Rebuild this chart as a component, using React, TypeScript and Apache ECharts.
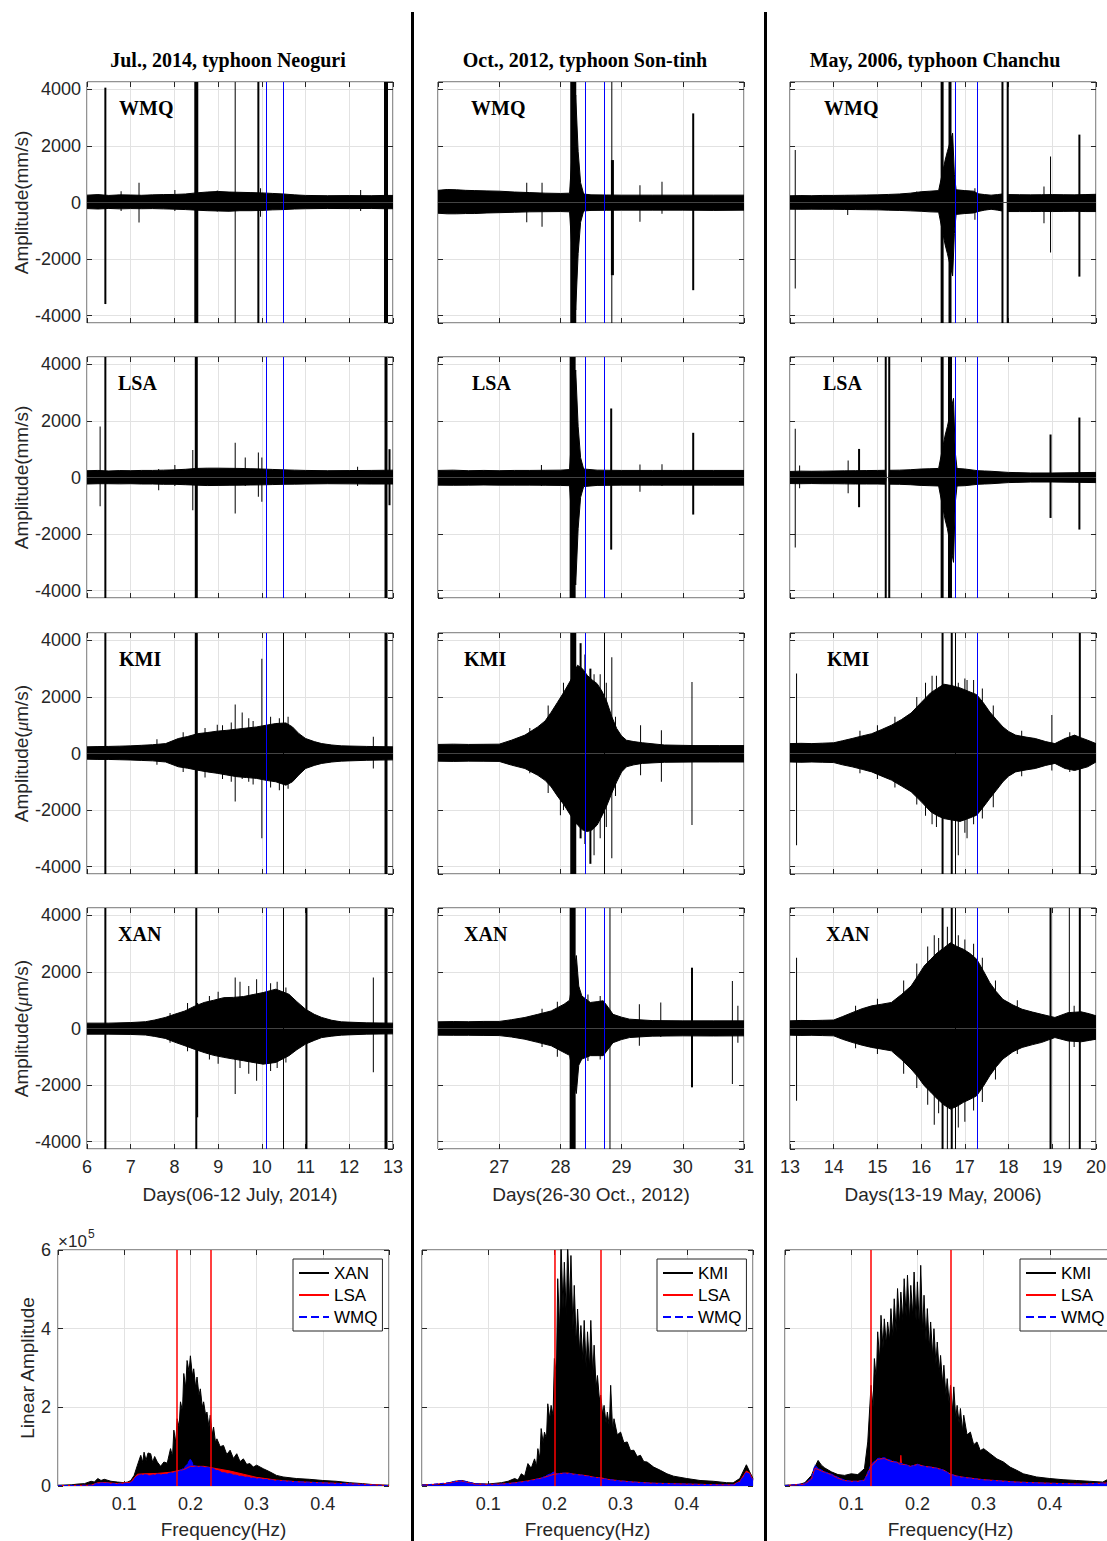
import React, { useEffect, useRef } from "react";
import * as echarts from "echarts";

// ================= DATA =================
const FULL = 99999; // marks a trace that runs off the whole panel

// Seismogram envelopes: [day, upper amplitude, lower amplitude]
const ENV_WMQ_2014 = [
  [6.0, 260, -215], [6.25, 280, -230], [6.5, 250, -210], [6.75, 270, -225], [7.0, 265, -215], [7.25, 255, -220],
  [7.5, 270, -215], [7.75, 280, -225], [8.0, 285, -235], [8.25, 300, -250], [8.5, 340, -270], [8.75, 370, -290],
  [9.0, 390, -300], [9.25, 370, -310], [9.5, 360, -290], [9.75, 350, -290], [10.0, 340, -280], [10.25, 320, -260],
  [10.5, 300, -250], [10.75, 270, -230], [11.0, 250, -220], [11.5, 240, -210], [12.0, 245, -215], [12.5, 240, -210],
  [12.8, 250, -220], [13.0, 250, -220],
];
const ENV_LSA_2014 = [
  [6.0, 240, -230], [6.25, 250, -220], [6.5, 230, -220], [6.75, 245, -225], [7.0, 240, -220], [7.25, 250, -230],
  [7.5, 250, -230], [7.75, 260, -240], [8.0, 270, -240], [8.25, 290, -255], [8.5, 320, -270], [8.75, 330, -285],
  [9.0, 330, -280], [9.25, 325, -275], [9.5, 320, -270], [9.75, 310, -265], [10.0, 300, -260], [10.25, 285, -250],
  [10.5, 270, -240], [10.75, 260, -235], [11.0, 250, -230], [11.5, 240, -220], [12.0, 245, -225], [12.5, 250, -230],
  [12.8, 255, -230], [13.0, 260, -230],
];
const ENV_KMI_2014 = [
  [6.0, 235, -200], [6.25, 245, -210], [6.5, 250, -210], [6.75, 260, -220], [7.0, 270, -230], [7.25, 290, -245],
  [7.5, 310, -260], [7.8, 350, -300], [8.09, 530, -470], [8.3, 600, -520], [8.53, 700, -590], [8.75, 740, -650],
  [8.98, 790, -700], [9.2, 820, -760], [9.43, 860, -820], [9.65, 900, -850], [9.88, 940, -880], [10.1, 1000, -950],
  [10.32, 1060, -1000], [10.55, 1080, -1120], [10.7, 940, -1000], [10.85, 700, -750], [11.0, 530, -530],
  [11.2, 420, -420], [11.37, 350, -350], [11.6, 300, -300], [11.82, 270, -270], [12.4, 250, -240], [13.0, 235, -225],
];
const ENV_XAN_2014 = [
  [6.0, 190, -200], [6.5, 190, -200], [7.0, 210, -210], [7.34, 240, -230], [7.55, 300, -280], [7.79, 390, -350],
  [8.0, 500, -480], [8.24, 620, -610], [8.45, 780, -730], [8.68, 920, -850], [8.9, 1000, -950], [9.13, 1090, -1020],
  [9.35, 1100, -1080], [9.58, 1130, -1140], [9.8, 1200, -1200], [10.03, 1270, -1260], [10.32, 1390, -1200],
  [10.62, 1210, -960], [10.8, 950, -750], [11.0, 680, -550], [11.2, 500, -420], [11.37, 390, -320],
  [11.6, 290, -270], [11.82, 235, -235], [12.4, 200, -200], [13.0, 190, -190],
];
const ENV_WMQ_2012 = [
  [26.0, 430, -380], [26.15, 460, -400], [26.3, 450, -400], [26.45, 430, -390], [26.6, 420, -390], [26.8, 410, -370],
  [27.0, 400, -360], [27.25, 370, -345], [27.5, 350, -330], [27.75, 330, -325], [28.0, 320, -320], [28.15, 330, -330],
  [28.25, 3800, -3800], [28.29, 1800, -1800], [28.33, 700, -700], [28.38, 300, -300], [28.5, 270, -280],
  [28.75, 265, -275], [29.0, 260, -270], [29.5, 260, -270], [30.0, 260, -270], [30.5, 260, -280], [31.0, 260, -270],
];
const ENV_LSA_2012 = [
  [26.0, 250, -270], [26.25, 260, -275], [26.5, 240, -270], [26.75, 250, -265], [27.0, 240, -270], [27.25, 250, -270],
  [27.5, 250, -270], [27.75, 255, -275], [28.0, 260, -280], [28.15, 280, -290], [28.25, 3800, -3800],
  [28.29, 1800, -1800], [28.33, 700, -700], [28.38, 300, -320], [28.6, 260, -280], [29.0, 250, -270],
  [29.5, 250, -270], [30.0, 250, -270], [30.5, 250, -270], [31.0, 250, -270],
];
const ENV_KMI_2012 = [
  [26.0, 320, -270], [26.25, 330, -280], [26.5, 320, -270], [26.75, 325, -275], [27.0, 330, -280], [27.2, 470, -410],
  [27.42, 650, -530], [27.63, 940, -770], [27.75, 1150, -950], [27.85, 1460, -1180], [27.95, 1800, -1500],
  [28.06, 2180, -1820], [28.17, 2600, -2200], [28.28, 3120, -2530], [28.36, 3000, -2700], [28.44, 2760, -2760],
  [28.52, 2600, -2700], [28.6, 2470, -2530], [28.68, 2200, -2200], [28.76, 1820, -1830], [28.84, 1300, -1400],
  [28.92, 880, -1000], [29.0, 620, -650], [29.08, 470, -470], [29.2, 420, -400], [29.34, 380, -350],
  [29.7, 300, -310], [30.2, 280, -300], [30.6, 280, -300], [31.0, 280, -300],
];
const ENV_XAN_2012 = [
  [26.0, 235, -235], [26.25, 245, -240], [26.5, 240, -240], [26.75, 250, -245], [27.0, 250, -250], [27.2, 310, -300],
  [27.42, 390, -380], [27.63, 500, -490], [27.85, 620, -610], [28.06, 860, -850], [28.15, 1000, -950],
  [28.26, 2580, -2300], [28.3, 1500, -1300], [28.35, 1150, -1080], [28.49, 920, -960], [28.6, 950, -960],
  [28.7, 980, -960], [28.78, 750, -730], [28.86, 500, -500], [29.0, 400, -390], [29.13, 330, -320],
  [29.5, 280, -270], [30.0, 270, -260], [30.5, 270, -265], [31.0, 270, -260],
];
const ENV_WMQ_2006 = [
  [13.0, 236, -236], [13.25, 245, -240], [13.5, 240, -236], [13.75, 250, -240], [14.0, 250, -240], [14.25, 255, -245],
  [14.5, 260, -250], [14.75, 265, -255], [15.0, 270, -260], [15.25, 285, -270], [15.5, 300, -280], [15.75, 330, -295],
  [16.0, 380, -310], [16.2, 400, -330], [16.4, 420, -340], [16.55, 1500, -1500], [16.6, 1800, -1800],
  [16.72, 2450, -2600], [16.76, 1000, -1100], [16.8, 450, -420], [17.0, 420, -390], [17.2, 400, -370],
  [17.3, 310, -320], [17.45, 280, -270], [17.6, 260, -240], [17.75, 280, -270], [17.85, 300, -300], [17.86, 0, 0],
  [17.98, 0, 0], [17.99, 280, -320], [18.25, 275, -320], [18.5, 270, -320], [18.75, 275, -315], [19.0, 280, -320],
  [19.25, 275, -315], [19.5, 270, -310], [19.75, 280, -320], [20.0, 290, -320],
];
const ENV_LSA_2006 = [
  [13.0, 214, -214], [13.25, 225, -220], [13.5, 220, -214], [13.75, 225, -220], [14.0, 230, -220], [14.25, 235, -225],
  [14.5, 240, -230], [14.75, 245, -230], [15.0, 250, -230], [15.18, 255, -235], [15.2, 0, 0], [15.26, 0, 0],
  [15.28, 255, -235], [15.5, 260, -240], [15.75, 275, -255], [16.0, 300, -280], [16.2, 310, -290], [16.4, 320, -300],
  [16.55, 1500, -1500], [16.6, 1800, -1800], [16.74, 2800, -3000], [16.78, 900, -900], [16.82, 320, -300],
  [17.0, 300, -290], [17.3, 240, -240], [17.45, 230, -230], [17.6, 220, -220], [18.0, 180, -180], [18.5, 160, -160],
  [19.0, 160, -160], [19.5, 170, -170], [20.0, 180, -180],
];
const ENV_KMI_2006 = [
  [13.0, 350, -300], [13.25, 360, -310], [13.5, 350, -300], [13.75, 365, -310], [14.0, 380, -320], [14.2, 450, -400],
  [14.42, 530, -470], [14.65, 620, -560], [14.87, 700, -650], [15.1, 850, -800], [15.32, 1000, -940],
  [15.55, 1200, -1150], [15.77, 1430, -1350], [16.0, 1800, -1700], [16.22, 2150, -2060], [16.37, 2300, -2200],
  [16.52, 2450, -2300], [16.7, 2400, -2350], [16.89, 2320, -2400], [17.08, 2200, -2300], [17.27, 2080, -2180],
  [17.42, 1800, -1900], [17.57, 1470, -1590], [17.72, 1200, -1300], [17.87, 940, -1000], [18.0, 780, -800],
  [18.16, 650, -650], [18.4, 580, -580], [18.61, 530, -530], [18.85, 420, -420], [19.06, 350, -350],
  [19.29, 530, -530], [19.51, 650, -600], [19.65, 560, -540], [19.81, 470, -470], [20.0, 350, -300],
];
const ENV_XAN_2006 = [
  [13.0, 270, -235], [13.25, 285, -245], [13.5, 280, -240], [13.75, 290, -250], [14.0, 300, -260], [14.2, 420, -380],
  [14.42, 560, -490], [14.65, 700, -590], [14.87, 800, -670], [15.1, 860, -730], [15.32, 920, -790],
  [15.55, 1200, -1100], [15.77, 1500, -1430], [15.92, 1850, -1700], [16.07, 2210, -2020], [16.22, 2450, -2250],
  [16.37, 2680, -2490], [16.52, 2850, -2700], [16.67, 3030, -2850], [16.82, 2900, -2750], [16.97, 2800, -2610],
  [17.12, 2650, -2500], [17.27, 2450, -2380], [17.42, 2050, -2050], [17.57, 1620, -1670], [17.72, 1300, -1350],
  [17.87, 1030, -1080], [18.1, 830, -820], [18.31, 680, -670], [18.55, 580, -570], [18.76, 500, -490],
  [19.06, 390, -320], [19.36, 560, -440], [19.66, 590, -470], [19.85, 520, -420], [20.0, 450, -380],
];

// Isolated spikes and traces: [day, top, bottom, stroke width in px]
const SPK_WMQ_2014 = [
  [6.42, 4060, -3590, 2], [6.78, 400, -300, 1], [7.19, 700, -710, 1], [8.01, 440, -300, 1], [8.5, FULL, -FULL, 4],
  [8.98, 420, -320, 1], [9.39, FULL, -FULL, 1], [9.92, FULL, -FULL, 2], [9.97, 500, -500, 1], [12.26, 440, -300, 1],
  [12.84, FULL, -FULL, 4],
];
const SPK_LSA_2014 = [
  [6.3, 1800, -1015, 1], [6.42, FULL, -FULL, 2], [7.64, 300, -450, 1], [8.01, 440, -300, 1], [8.42, 970, -1160, 1],
  [8.5, FULL, -FULL, 3], [9.39, 1230, -1270, 1], [9.62, 710, -300, 1], [9.92, 885, -680, 1], [10.0, 710, -860, 1],
  [12.19, 380, -300, 1], [12.84, FULL, -FULL, 3], [12.92, 1000, -980, 2],
];
const SPK_KMI_2014 = [
  [6.42, FULL, -FULL, 2], [7.6, 500, -400, 1], [8.2, 750, -650, 1], [8.5, FULL, -FULL, 3], [8.7, 900, -850, 1],
  [8.98, 1020, -700, 1], [9.1, 1000, -900, 1], [9.3, 1100, -1000, 1], [9.39, 1730, -1700, 1], [9.55, 1450, -900, 1],
  [9.7, 1250, -1000, 1], [9.8, 1150, -1100, 1], [10.0, 3350, -3000, 1], [10.2, 1300, -1200, 1],
  [10.4, 1250, -1300, 1], [10.6, 1300, -1250, 1], [12.55, 590, -530, 1], [12.84, FULL, -FULL, 3],
];
const SPK_XAN_2014 = [
  [6.42, FULL, -FULL, 2], [7.9, 550, -500, 1], [8.3, 900, -800, 1], [8.5, FULL, -FULL, 2], [8.52, 900, -3140, 2],
  [8.8, 1150, -1100, 1], [9.0, 1300, -1250, 1], [9.39, 1800, -2320, 1], [9.5, 1650, -1400, 1], [9.7, 1500, -1600, 1],
  [9.88, 1740, -1850, 1], [10.2, 1600, -1500, 1], [10.35, 1650, -1400, 1], [10.55, 1450, -1200, 1],
  [11.02, FULL, -FULL, 2], [12.55, 1800, -1550, 1], [12.84, FULL, -FULL, 3],
];
const SPK_WMQ_2012 = [
  [27.45, 700, -700, 1], [27.7, 700, -860, 1], [28.21, FULL, -FULL, 6], [28.84, FULL, -FULL, 1],
  [28.85, 1500, -2570, 3], [29.3, 610, -680, 1], [29.66, 730, -400, 1], [30.17, 3150, -3100, 2],
];
const SPK_LSA_2012 = [
  [27.69, 440, -300, 1], [28.2, FULL, -FULL, 6], [28.83, 2440, -2550, 2], [29.3, 460, -500, 1], [29.66, 470, -300, 1],
  [30.17, 1580, -1310, 2],
];
const SPK_KMI_2012 = [
  [27.5, 900, -700, 1], [27.8, 1700, -1400, 1], [28.0, 1800, -2180, 1], [28.05, 2500, -2000, 1],
  [28.21, FULL, -FULL, 6], [28.33, 3900, -3000, 2], [28.4, 3500, -3200, 1], [28.49, 3000, -3900, 2],
  [28.55, 2800, -3600, 1], [28.65, 2800, -3000, 1], [28.75, 2500, -2600, 1], [28.84, 3400, -3700, 1],
  [28.9, 1300, -1500, 1], [29.31, 1000, -770, 1], [29.65, 820, -1000, 1], [30.15, 2530, -2530, 1],
];
const SPK_XAN_2012 = [
  [27.7, 700, -650, 1], [27.95, 950, -1000, 1], [28.2, FULL, -FULL, 6], [28.45, 1200, -1150, 1],
  [28.65, 1150, -1100, 1], [28.81, FULL, -FULL, 1], [29.29, 860, -610, 1], [29.64, 920, -300, 1],
  [30.15, 2150, -2080, 2], [30.81, 1680, -1960, 1], [30.9, 800, -500, 1],
];
const SPK_WMQ_2006 = [
  [13.12, 1860, -3040, 1], [14.32, 250, -440, 1], [15.9, 390, -250, 1], [16.48, FULL, -FULL, 3],
  [16.66, FULL, -FULL, 3], [17.23, 500, -610, 1], [17.86, FULL, -FULL, 2], [17.98, FULL, -FULL, 2],
  [18.81, 570, -730, 1], [18.96, 1630, -1770, 1], [19.62, 2400, -2620, 2],
];
const SPK_LSA_2006 = [
  [13.12, 1725, -2475, 1], [13.22, 420, -380, 1], [14.33, 600, -560, 1], [14.58, 1010, -1050, 2],
  [15.19, FULL, -FULL, 2], [15.27, FULL, -FULL, 2], [16.48, FULL, -FULL, 3], [16.66, FULL, -FULL, 4],
  [18.96, 1520, -1430, 2], [19.62, 2120, -1840, 2],
];
const SPK_KMI_2006 = [
  [13.15, 2830, -3240, 1], [14.6, 800, -700, 1], [15.0, 1000, -900, 1], [15.4, 1300, -1200, 1],
  [15.9, 2000, -1800, 1], [16.1, 2500, -2200, 1], [16.25, 2750, -2500, 1], [16.35, 2750, -2600, 1],
  [16.49, FULL, -FULL, 2], [16.7, FULL, -FULL, 2], [16.85, 2500, -3600, 1], [17.0, 2650, -2800, 1],
  [17.05, 2600, -3000, 1], [17.2, 2600, -2500, 1], [17.4, 2300, -2300, 1], [17.65, 1700, -1900, 1],
  [18.3, 800, -800, 1], [18.99, 1360, -600, 1], [19.4, 750, -650, 1], [19.63, FULL, -FULL, 2],
];
const SPK_XAN_2006 = [
  [13.15, 2500, -2550, 1], [14.5, 800, -700, 1], [15.0, 1050, -900, 1], [15.6, 1700, -1600, 1],
  [15.9, 2300, -2100, 1], [16.15, 2900, -2700, 1], [16.3, 3300, -3400, 1], [16.4, 3200, -3000, 1],
  [16.49, FULL, -FULL, 2], [16.6, 3600, -FULL, 1], [16.7, FULL, -FULL, 2], [16.85, 3300, -3500, 1],
  [17.0, 3150, -3300, 1], [17.2, 3000, -2900, 1], [17.4, 2500, -2600, 1], [17.7, 1700, -1800, 1],
  [18.2, 1000, -900, 1], [18.96, FULL, -FULL, 2], [19.39, FULL, -FULL, 1], [19.5, 800, -650, 1],
  [19.63, FULL, -FULL, 2],
];

// Analysis windows (vertical lines) per event, and their colours per row
const WINDOWS = [[10.1, 10.5], [28.41, 28.71], [16.78, 17.29]];
const WINDOW_COLORS = [
  [["b", "b"], ["b", "b"], ["b", "b"]],
  [["b", "b"], ["b", "b"], ["b", "b"]],
  [["b", "k"], ["b", "k"], ["k", "b"]],
  [["b", "k"], ["b", "b"], ["k", "b"]],
];

// Spectra: [frequency Hz, amplitude x 1e5]
const SPEC_XAN_2014 = [
  [0.0, 0.02], [0.02, 0.03], [0.03, 0.05], [0.04, 0.06], [0.05, 0.12], [0.055, 0.1], [0.06, 0.19], [0.065, 0.14],
  [0.07, 0.17], [0.08, 0.12], [0.09, 0.1], [0.1, 0.085], [0.105, 0.1], [0.11, 0.14], [0.115, 0.27], [0.12, 0.53],
  [0.125, 0.78], [0.128, 0.6], [0.13, 0.86], [0.133, 0.65], [0.136, 0.84], [0.14, 0.82], [0.143, 0.6],
  [0.146, 0.75], [0.15, 0.61], [0.155, 0.5], [0.16, 0.61], [0.165, 0.58], [0.17, 0.95], [0.173, 0.75],
  [0.175, 1.42], [0.178, 1.1], [0.18, 1.71], [0.183, 1.5], [0.185, 2.14], [0.188, 1.9], [0.19, 2.86],
  [0.193, 2.5], [0.195, 3.19], [0.198, 2.9], [0.2, 3.31], [0.203, 2.8], [0.205, 2.98], [0.208, 2.5], [0.21, 2.77],
  [0.213, 2.3], [0.215, 2.47], [0.218, 2.0], [0.22, 2.14], [0.223, 1.8], [0.225, 1.88], [0.228, 1.5], [0.23, 1.8],
  [0.233, 1.3], [0.235, 1.5], [0.238, 1.1], [0.24, 1.2], [0.245, 1.0], [0.25, 1.03], [0.255, 0.8], [0.26, 0.91],
  [0.265, 0.7], [0.27, 0.82], [0.275, 0.62], [0.28, 0.69], [0.285, 0.55], [0.29, 0.57], [0.295, 0.48],
  [0.3, 0.53], [0.31, 0.44], [0.32, 0.36], [0.33, 0.27], [0.34, 0.23], [0.36, 0.19], [0.38, 0.17], [0.4, 0.14],
  [0.42, 0.12], [0.44, 0.085], [0.46, 0.06], [0.48, 0.03], [0.5, 0.02],
];
const SPEC_LSA_2014 = [
  [0.0, 0.01], [0.05, 0.02], [0.06, 0.08], [0.07, 0.09], [0.09, 0.06], [0.11, 0.1], [0.12, 0.3], [0.13, 0.31],
  [0.15, 0.32], [0.17, 0.35], [0.19, 0.42], [0.2, 0.5], [0.22, 0.5], [0.24, 0.44], [0.26, 0.38], [0.28, 0.3],
  [0.3, 0.22], [0.33, 0.15], [0.36, 0.11], [0.4, 0.08], [0.45, 0.05], [0.48, 0.03], [0.5, 0.01],
];
const SPEC_WMQ_2014 = [
  [0.0, 0.01], [0.05, 0.02], [0.06, 0.07], [0.07, 0.08], [0.09, 0.05], [0.11, 0.08], [0.12, 0.27], [0.13, 0.29],
  [0.14, 0.27], [0.15, 0.3], [0.16, 0.29], [0.17, 0.33], [0.18, 0.36], [0.19, 0.45], [0.195, 0.55], [0.2, 0.69],
  [0.205, 0.52], [0.21, 0.5], [0.22, 0.48], [0.23, 0.47], [0.24, 0.4], [0.25, 0.34], [0.26, 0.31], [0.27, 0.27],
  [0.28, 0.24], [0.3, 0.19], [0.33, 0.14], [0.35, 0.12], [0.4, 0.08], [0.45, 0.05], [0.48, 0.02], [0.5, 0.01],
];
const SPEC_KMI_2012 = [
  [0.0, 0.03], [0.03, 0.04], [0.05, 0.12], [0.06, 0.14], [0.07, 0.1], [0.08, 0.06], [0.1, 0.05], [0.12, 0.085],
  [0.13, 0.12], [0.14, 0.19], [0.145, 0.15], [0.15, 0.31], [0.155, 0.25], [0.16, 0.57], [0.165, 0.45],
  [0.17, 0.69], [0.173, 0.5], [0.175, 0.95], [0.178, 0.7], [0.18, 1.46], [0.183, 1.1], [0.185, 1.37],
  [0.188, 1.2], [0.19, 2.09], [0.193, 1.7], [0.195, 2.05], [0.198, 1.8], [0.2, 3.24], [0.203, 2.8], [0.205, 5.27],
  [0.208, 3.9], [0.21, 6.2], [0.213, 4.5], [0.215, 5.69], [0.218, 4.3], [0.22, 6.2], [0.223, 4.6], [0.225, 5.86],
  [0.228, 4.0], [0.23, 5.1], [0.233, 3.6], [0.235, 4.5], [0.238, 3.4], [0.24, 4.08], [0.243, 3.2], [0.245, 4.21],
  [0.248, 3.0], [0.25, 3.92], [0.253, 3.0], [0.255, 4.21], [0.258, 2.8], [0.26, 3.58], [0.263, 2.5],
  [0.265, 2.81], [0.268, 2.2], [0.27, 2.31], [0.273, 1.8], [0.275, 2.05], [0.278, 1.6], [0.28, 1.88],
  [0.283, 1.5], [0.285, 2.56], [0.288, 1.4], [0.29, 1.71], [0.295, 1.3], [0.3, 1.37], [0.305, 1.1], [0.31, 1.12],
  [0.315, 0.9], [0.32, 0.91], [0.325, 0.75], [0.33, 0.78], [0.335, 0.62], [0.34, 0.61], [0.35, 0.48],
  [0.36, 0.4], [0.37, 0.31], [0.38, 0.25], [0.4, 0.19], [0.42, 0.14], [0.44, 0.12], [0.46, 0.085], [0.47, 0.08],
  [0.48, 0.19], [0.49, 0.54], [0.495, 0.36], [0.5, 0.19],
];
const SPEC_LSA_2012 = [
  [0.0, 0.02], [0.04, 0.07], [0.05, 0.11], [0.06, 0.13], [0.07, 0.09], [0.08, 0.05], [0.1, 0.04], [0.12, 0.05],
  [0.14, 0.08], [0.16, 0.13], [0.18, 0.2], [0.2, 0.3], [0.21, 0.32], [0.22, 0.33], [0.23, 0.3], [0.24, 0.28],
  [0.25, 0.26], [0.26, 0.22], [0.27, 0.21], [0.28, 0.17], [0.3, 0.13], [0.32, 0.1], [0.35, 0.07], [0.4, 0.05],
  [0.45, 0.03], [0.47, 0.03], [0.48, 0.12], [0.49, 0.38], [0.495, 0.33], [0.5, 0.15],
];
const SPEC_WMQ_2012 = [
  [0.0, 0.02], [0.04, 0.08], [0.05, 0.12], [0.06, 0.14], [0.07, 0.1], [0.08, 0.06], [0.1, 0.04], [0.12, 0.05],
  [0.14, 0.08], [0.16, 0.12], [0.18, 0.2], [0.2, 0.36], [0.205, 0.3], [0.21, 0.33], [0.22, 0.32], [0.23, 0.3],
  [0.24, 0.28], [0.25, 0.25], [0.26, 0.22], [0.27, 0.2], [0.28, 0.17], [0.3, 0.13], [0.32, 0.1], [0.35, 0.07],
  [0.4, 0.05], [0.45, 0.03], [0.47, 0.03], [0.48, 0.1], [0.49, 0.35], [0.495, 0.3], [0.5, 0.15],
];
const SPEC_KMI_2006 = [
  [0.0, 0.02], [0.02, 0.03], [0.03, 0.085], [0.04, 0.27], [0.045, 0.48], [0.05, 0.65], [0.055, 0.53], [0.06, 0.46],
  [0.07, 0.36], [0.08, 0.29], [0.09, 0.27], [0.1, 0.31], [0.11, 0.29], [0.12, 0.44], [0.125, 1.12], [0.13, 2.56],
  [0.133, 2.0], [0.135, 3.24], [0.138, 2.7], [0.14, 3.92], [0.143, 3.2], [0.145, 4.34], [0.148, 3.5],
  [0.15, 4.25], [0.153, 3.6], [0.155, 4.17], [0.158, 3.7], [0.16, 4.51], [0.163, 3.8], [0.165, 4.76],
  [0.168, 3.9], [0.17, 5.02], [0.173, 4.1], [0.175, 4.93], [0.178, 4.2], [0.18, 5.27], [0.183, 4.3],
  [0.185, 5.36], [0.188, 4.2], [0.19, 5.1], [0.193, 4.3], [0.195, 5.44], [0.198, 4.2], [0.2, 5.19], [0.203, 4.0],
  [0.205, 5.61], [0.208, 3.9], [0.21, 4.85], [0.213, 3.7], [0.215, 4.51], [0.218, 3.5], [0.22, 4.17],
  [0.223, 3.3], [0.225, 4.0], [0.228, 3.1], [0.23, 3.66], [0.233, 2.9], [0.235, 3.32], [0.238, 2.6], [0.24, 3.07],
  [0.243, 2.3], [0.245, 2.73], [0.248, 2.1], [0.25, 2.56], [0.253, 1.9], [0.255, 2.52], [0.258, 1.7], [0.26, 2.05],
  [0.263, 1.6], [0.265, 1.97], [0.268, 1.4], [0.27, 1.8], [0.275, 1.3], [0.28, 1.37], [0.285, 1.05], [0.29, 1.12],
  [0.295, 0.9], [0.3, 0.95], [0.31, 0.82], [0.32, 0.69], [0.33, 0.61], [0.34, 0.48], [0.35, 0.4], [0.36, 0.31],
  [0.38, 0.23], [0.4, 0.19], [0.42, 0.16], [0.44, 0.14], [0.46, 0.12], [0.48, 0.1], [0.49, 0.19], [0.5, 0.31],
];
const SPEC_LSA_2006 = [
  [0.0, 0.01], [0.03, 0.05], [0.04, 0.18], [0.045, 0.45], [0.05, 0.42], [0.06, 0.35], [0.07, 0.29], [0.08, 0.2],
  [0.09, 0.14], [0.1, 0.12], [0.11, 0.12], [0.12, 0.15], [0.13, 0.5], [0.14, 0.68], [0.15, 0.7], [0.16, 0.63],
  [0.17, 0.6], [0.174, 0.55], [0.175, 0.78], [0.176, 0.55], [0.18, 0.55], [0.19, 0.5], [0.2, 0.55], [0.21, 0.5],
  [0.22, 0.48], [0.23, 0.45], [0.24, 0.4], [0.25, 0.3], [0.26, 0.25], [0.27, 0.22], [0.3, 0.16], [0.35, 0.1],
  [0.4, 0.07], [0.45, 0.05], [0.49, 0.08], [0.5, 0.25],
];
const SPEC_WMQ_2006 = [
  [0.0, 0.01], [0.03, 0.06], [0.04, 0.2], [0.045, 0.53], [0.05, 0.45], [0.06, 0.36], [0.07, 0.3], [0.08, 0.22],
  [0.09, 0.15], [0.1, 0.12], [0.11, 0.12], [0.12, 0.15], [0.13, 0.55], [0.14, 0.7], [0.15, 0.72], [0.16, 0.65],
  [0.17, 0.6], [0.18, 0.55], [0.19, 0.5], [0.2, 0.55], [0.21, 0.5], [0.22, 0.48], [0.23, 0.45], [0.24, 0.4],
  [0.25, 0.3], [0.26, 0.25], [0.27, 0.22], [0.3, 0.16], [0.35, 0.1], [0.4, 0.07], [0.45, 0.05], [0.49, 0.08],
  [0.5, 0.25],
];
const SPEC_BANDS = [[0.18, 0.23], [0.2, 0.27], [0.13, 0.25]];

// Labels
const STATIONS = ["WMQ", "LSA", "KMI", "XAN"];
const COL_TITLES = ["Jul., 2014, typhoon Neoguri", "Oct., 2012, typhoon Son-tinh", "May, 2006, typhoon Chanchu"];
const DAY_RANGES = [[6, 13], [26, 31], [13, 20]];
const DAY_NAMES = ["Days(06-12 July, 2014)", "Days(26-30 Oct., 2012)", "Days(13-19 May, 2006)"];
const Y_NAMES = ["Amplitude(mm/s)", "Amplitude(mm/s)", "Amplitude({mu|μ}m/s)", "Amplitude({mu|μ}m/s)"];
const SPEC_MAIN_NAMES = ["XAN", "KMI", "KMI"];

const ENVELOPES = [
  [ENV_WMQ_2014, ENV_WMQ_2012, ENV_WMQ_2006],
  [ENV_LSA_2014, ENV_LSA_2012, ENV_LSA_2006],
  [ENV_KMI_2014, ENV_KMI_2012, ENV_KMI_2006],
  [ENV_XAN_2014, ENV_XAN_2012, ENV_XAN_2006],
];
const SPIKES = [
  [SPK_WMQ_2014, SPK_WMQ_2012, SPK_WMQ_2006],
  [SPK_LSA_2014, SPK_LSA_2012, SPK_LSA_2006],
  [SPK_KMI_2014, SPK_KMI_2012, SPK_KMI_2006],
  [SPK_XAN_2014, SPK_XAN_2012, SPK_XAN_2006],
];
const SPECTRA = [
  [SPEC_XAN_2014, SPEC_LSA_2014, SPEC_WMQ_2014],
  [SPEC_KMI_2012, SPEC_LSA_2012, SPEC_WMQ_2012],
  [SPEC_KMI_2006, SPEC_LSA_2006, SPEC_WMQ_2006],
];

// ================= LAYOUT =================
const COL_LEFT = [87, 438, 790];
const ROW_TOP = [82, 357, 633, 908];
const PANEL_W = 306;
const PANEL_H = 241;
const Y_LIM = 4260;
const SPEC_LEFT = [58, 422, 785];
const SPEC_TOP = 1250;
const SPEC_W = 331;
const SPEC_H = 236;
const TITLE_X = [228, 585, 935];
const STATION_LEFT = [
  [119, 471, 824],
  [118, 472, 823],
  [119, 464, 827],
  [118, 464, 826],
];
const LEGEND_LEFT = [293, 657, 1020];

const FONT = '"Liberation Sans", Arial, Helvetica, sans-serif';
const SERIF = '"Liberation Serif", "Times New Roman", serif';
const AXIS_C = "#262626";
const GRID_C = "#e2e2e2";

function buildOption() {
  const grid: any[] = [];
  const xAxis: any[] = [];
  const yAxis: any[] = [];
  const mirrorX: any[] = [];
  const mirrorY: any[] = [];
  const series: any[] = [];
  const graphic: any[] = [];

  const tick = { show: true, inside: true, length: 5, lineStyle: { color: AXIS_C, width: 1 } };
  const split = { show: true, lineStyle: { color: GRID_C, width: 1 } };
  const plain = (v: number) => String(v);
  const mirror = (base: any, position: string) => ({
    ...base, position, name: "", axisLabel: { show: false }, splitLine: { show: false },
    axisLine: { show: false, onZero: false }, axisTick: tick,
  });

  const renderSpike = (params: any, api: any) => {
    const x = api.value(0);
    const up = Math.min(api.value(1), Y_LIM);
    const dn = Math.max(api.value(2), -Y_LIM);
    const w = api.value(3);
    const p1 = api.coord([x, up]);
    const p2 = api.coord([x, dn]);
    return {
      type: "rect",
      shape: { x: p1[0] - w / 2, y: p1[1], width: w, height: p2[1] - p1[1] },
      style: { fill: "#000" },
    };
  };

  for (let r = 0; r < 4; r++) {
    for (let c = 0; c < 3; c++) {
      const i = grid.length;
      grid.push({
        left: COL_LEFT[c], top: ROW_TOP[r], width: PANEL_W, height: PANEL_H,
        show: true, borderColor: AXIS_C, borderWidth: 1, backgroundColor: "#fff",
        containLabel: false, outerBoundsMode: "none",
      });
      const xa = {
        type: "value", gridIndex: i, min: DAY_RANGES[c][0], max: DAY_RANGES[c][1], interval: 1,
        axisLine: { show: false, onZero: false }, axisTick: tick, splitLine: split,
        axisLabel: {
          show: r === 3, fontSize: 18, color: AXIS_C, fontFamily: FONT, margin: 9, formatter: plain,
          showMinLabel: c !== 1, showMaxLabel: true,
        },
        name: r === 3 ? DAY_NAMES[c] : "", nameLocation: "middle", nameGap: 36,
        nameTextStyle: { fontSize: 19, color: AXIS_C, fontFamily: FONT },
      };
      const ya = {
        type: "value", gridIndex: i, min: -Y_LIM, max: Y_LIM, splitNumber: 5,
        axisLine: { show: false, onZero: false }, axisTick: tick, splitLine: split,
        axisLabel: {
          show: c === 0, fontSize: 18, color: AXIS_C, fontFamily: FONT, margin: 6, formatter: plain,
          showMinLabel: false, showMaxLabel: false,
        },
        name: c === 0 ? Y_NAMES[r] : "", nameLocation: "middle", nameGap: 55,
        nameTextStyle: {
          fontSize: 19, color: AXIS_C, fontFamily: FONT,
          rich: { mu: { fontSize: 19, color: AXIS_C, fontStyle: "italic", fontFamily: SERIF } },
        },
      };
      xAxis.push(xa);
      yAxis.push(ya);
      mirrorX.push(mirror(xa, "top"));
      mirrorY.push(mirror(ya, "right"));

      const env = ENVELOPES[r][c];
      const winLines = WINDOWS[c].map((x, k) => ({
        xAxis: x,
        lineStyle: { color: WINDOW_COLORS[r][c][k] === "b" ? "#0000ff" : "#000000", width: 1, type: "solid" },
      }));
      const base = {
        type: "line", xAxisIndex: i, yAxisIndex: i, symbol: "none", showSymbol: false, silent: true,
        lineStyle: { color: "#000", width: 1 }, itemStyle: { color: "#000" },
        areaStyle: { color: "#000", opacity: 1 }, z: 2, animation: false,
      };
      series.push({
        ...base,
        data: env.map((d) => [d[0], d[1]]),
        markLine: {
          silent: true, symbol: ["none", "none"], label: { show: false }, animation: false,
          lineStyle: { type: "solid", width: 1 },
          data: [{ yAxis: 0, lineStyle: { color: "#444", width: 1, type: "solid" } }, ...winLines],
        },
      });
      series.push({ ...base, data: env.map((d) => [d[0], d[2]]) });
      series.push({
        type: "custom", xAxisIndex: i, yAxisIndex: i, silent: true, z: 3, animation: false,
        data: SPIKES[r][c], renderItem: renderSpike, encode: { x: 0, y: [1, 2] },
      });

      graphic.push({
        type: "text", x: STATION_LEFT[r][c], y: ROW_TOP[r] + 26, silent: true, z: 100,
        style: {
          text: STATIONS[r], font: `bold 20px ${SERIF}`, fill: "#000",
          align: "left", verticalAlign: "middle", textAlign: "left", textVerticalAlign: "middle",
        },
      });
    }
  }

  // Spectra row
  const legends: any[] = [];
  for (let c = 0; c < 3; c++) {
    const i = grid.length;
    grid.push({
      left: SPEC_LEFT[c], top: SPEC_TOP, width: SPEC_W, height: SPEC_H,
      show: true, borderColor: AXIS_C, borderWidth: 1, backgroundColor: "#fff",
      containLabel: false, outerBoundsMode: "none",
    });
    const xa = {
      type: "value", gridIndex: i, min: 0, max: 0.5, interval: 0.1,
      axisLine: { show: false, onZero: false }, axisTick: tick, splitLine: split,
      axisLabel: { show: true, fontSize: 18, color: AXIS_C, fontFamily: FONT, margin: 9, showMinLabel: false, showMaxLabel: false },
      name: "Frequency(Hz)", nameLocation: "middle", nameGap: 34,
      nameTextStyle: { fontSize: 19, color: AXIS_C, fontFamily: FONT },
    };
    const ya = {
      type: "value", gridIndex: i, min: 0, max: 6, interval: 2,
      axisLine: { show: false, onZero: false }, axisTick: tick, splitLine: split,
      axisLabel: { show: c === 0, fontSize: 18, color: AXIS_C, fontFamily: FONT, margin: 7 },
      name: c === 0 ? "Linear Amplitude" : "", nameLocation: "middle", nameGap: 20,
      nameTextStyle: { fontSize: 19, color: AXIS_C, fontFamily: FONT },
    };
    xAxis.push(xa);
    yAxis.push(ya);
    mirrorX.push(mirror(xa, "top"));
    mirrorY.push(mirror(ya, "right"));
    const [mainData, lsaData, wmqData] = SPECTRA[c];
    series.push({
      name: SPEC_MAIN_NAMES[c], type: "line", xAxisIndex: i, yAxisIndex: i, symbol: "none", showSymbol: false,
      silent: true, color: "#000", lineStyle: { color: "#000", width: 1 }, areaStyle: { color: "#000", opacity: 1 },
      data: mainData, z: 2,
      markLine: {
        silent: true, symbol: ["none", "none"], label: { show: false }, animation: false,
        lineStyle: { type: "solid", width: 1.5, color: "#ff0000" },
        data: SPEC_BANDS[c].map((f) => ({ xAxis: f })),
      },
    });
    series.push({
      name: "LSA", type: "line", xAxisIndex: i, yAxisIndex: i, symbol: "none", showSymbol: false, silent: true,
      color: "#ff0000", lineStyle: { color: "#ff0000", width: 1 }, areaStyle: { color: "#ff0000", opacity: 1 },
      data: lsaData, z: 2,
    });
    series.push({
      name: "WMQ", type: "line", xAxisIndex: i, yAxisIndex: i, symbol: "none", showSymbol: false, silent: true,
      color: "#0000ff", lineStyle: { color: "#0000ff", width: 1, type: "dashed" },
      areaStyle: { color: "#0000ff", opacity: 1 }, data: wmqData, z: 2,
    });
    legends.push({
      data: [SPEC_MAIN_NAMES[c], "LSA", "WMQ"], orient: "vertical", left: LEGEND_LEFT[c], top: 1259,
      padding: [4, 5, 4, 5], itemGap: 2, itemWidth: 30, itemHeight: 14,
      backgroundColor: "#fff", borderColor: AXIS_C, borderWidth: 1, selectedMode: false,
      itemStyle: { opacity: 0, borderWidth: 0 },
      textStyle: { fontSize: 17, color: "#000", fontFamily: FONT, lineHeight: 20 },
    });
  }

  // Titles
  COL_TITLES.forEach((t, c) => {
    graphic.push({
      type: "text", x: TITLE_X[c], y: 60, silent: true,
      style: {
        text: t, font: `bold 20px ${SERIF}`, fill: "#000",
        align: "center", verticalAlign: "middle", textAlign: "center", textVerticalAlign: "middle",
      },
    });
  });
  // x10^5 multiplier
  graphic.push({
    type: "text", x: 58, y: 1241, silent: true,
    style: { text: "×10", font: `17px ${FONT}`, fill: AXIS_C, align: "left", verticalAlign: "middle", textAlign: "left", textVerticalAlign: "middle" },
  });
  graphic.push({
    type: "text", x: 88, y: 1234, silent: true,
    style: { text: "5", font: `12px ${FONT}`, fill: AXIS_C, align: "left", verticalAlign: "middle", textAlign: "left", textVerticalAlign: "middle" },
  });
  // Column dividers
  graphic.push({ type: "rect", shape: { x: 411, y: 12, width: 3, height: 1529 }, style: { fill: "#000" }, silent: true });
  graphic.push({ type: "rect", shape: { x: 764, y: 12, width: 3, height: 1529 }, style: { fill: "#000" }, silent: true });

  return {
    animation: false,
    backgroundColor: "#fff",
    textStyle: { fontFamily: FONT },
    grid,
    xAxis: [...xAxis, ...mirrorX],
    yAxis: [...yAxis, ...mirrorY],
    series,
    legend: legends,
    graphic,
  };
}

export default function App() {
  const ref = useRef<HTMLDivElement>(null);
  useEffect(() => {
    if (!ref.current) return;
    const chart = echarts.init(ref.current, null, { renderer: "svg" });
    chart.setOption(buildOption() as any);
    return () => chart.dispose();
  }, []);
  return (
    <div
      ref={ref}
      style={{ position: "absolute", left: 0, top: 0, width: 1107, height: 1541, background: "#fff" }}
    />
  );
}
